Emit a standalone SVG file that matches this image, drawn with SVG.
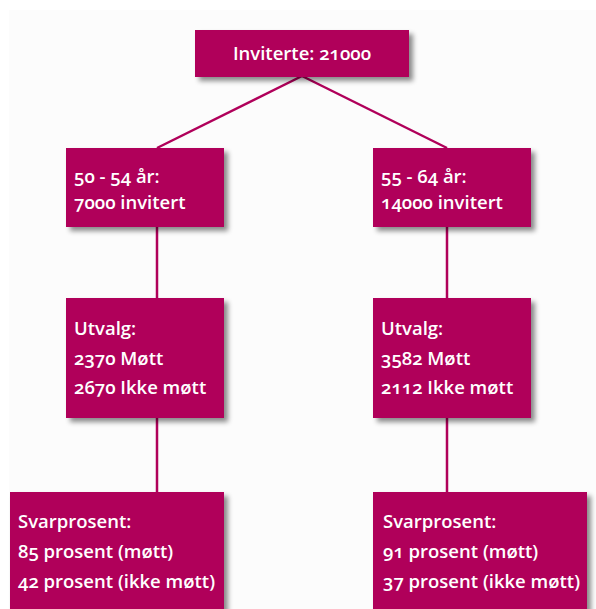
<svg xmlns="http://www.w3.org/2000/svg" width="596" height="609" viewBox="0 0 596 609">
<defs>
<filter id="sh" x="-20%" y="-20%" width="150%" height="160%">
<feDropShadow dx="4" dy="4" stdDeviation="2.5" flood-color="#000" flood-opacity="0.45"/>
</filter>
</defs>
<style>
.box{fill:#b0005a;filter:url(#sh)}
.t{fill:#fff;font-family:"Open Sans","Noto Sans",sans-serif;font-size:18.5px;font-weight:600;font-variant-numeric:oldstyle-nums}
.c{stroke:#b0005a;stroke-width:2.5;fill:none}
</style>
<rect x="0" y="0" width="596" height="609" fill="#fff"/>
<rect x="9" y="10" width="587" height="599" fill="#fcfcfc"/>
<g id="connectors">
<line class="c" x1="302" y1="76" x2="157" y2="148"/>
<line class="c" x1="302" y1="76" x2="447" y2="148"/>
<line class="c" x1="157" y1="227" x2="157" y2="298"/>
<line class="c" x1="447" y1="227" x2="447" y2="298"/>
<line class="c" x1="157" y1="418" x2="157" y2="492"/>
<line class="c" x1="447" y1="418" x2="447" y2="492"/>
</g>
<g id="top">
<rect class="box" x="195" y="30" width="214" height="47"/>
<text class="t" x="302" y="60" text-anchor="middle">Inviterte: 21000</text>
</g>
<g id="age1">
<rect class="box" x="66" y="148" width="158" height="79"/>
<text class="t" x="74" y="183">50 - 54 år:</text>
<text class="t" x="74" y="209">7000 invitert</text>
</g>
<g id="age2">
<rect class="box" x="373" y="148" width="158" height="79"/>
<text class="t" x="381" y="183">55 - 64 år:</text>
<text class="t" x="381" y="209">14000 invitert</text>
</g>
<g id="utv1">
<rect class="box" x="66" y="298" width="158" height="120"/>
<text class="t" x="74" y="335">Utvalg:</text>
<text class="t" x="74" y="365">2370 Møtt</text>
<text class="t" x="74" y="394">2670 Ikke møtt</text>
</g>
<g id="utv2">
<rect class="box" x="373" y="298" width="158" height="120"/>
<text class="t" x="381" y="335">Utvalg:</text>
<text class="t" x="381" y="365">3582 Møtt</text>
<text class="t" x="381" y="394">2112 Ikke møtt</text>
</g>
<g id="svar1">
<rect class="box" x="10" y="492" width="214" height="130"/>
<text class="t" x="18" y="528">Svarprosent:</text>
<text class="t" x="18" y="558">85 prosent (møtt)</text>
<text class="t" x="18" y="588">42 prosent (ikke møtt)</text>
</g>
<g id="svar2">
<rect class="box" x="373" y="492" width="214" height="130"/>
<text class="t" x="383" y="528">Svarprosent:</text>
<text class="t" x="383" y="558">91 prosent (møtt)</text>
<text class="t" x="383" y="588">37 prosent (ikke møtt)</text>
</g>
</svg>
